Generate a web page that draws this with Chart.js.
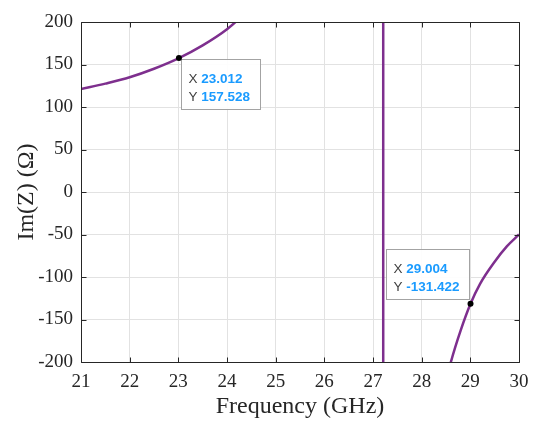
<!DOCTYPE html>
<html>
<head>
<meta charset="utf-8">
<script src="https://cdn.jsdelivr.net/npm/chart.js@4"></script>
<style>
  html, body { margin: 0; padding: 0; background: #fff; }
</style>
</head>
<body>
<canvas id="imz" width="533" height="423"></canvas>
<script>
// Im(Z) sweep, split at the pole near 27.2 GHz
const freqLow  = [21, 21.5, 22, 22.5, 23.012, 23.5, 24, 24.25, 24.5];
const imLow    = [121, 127.5, 135, 145, 157.528, 172.5, 191.5, 204, 219];
const poleFreq = [27.21, 27.21];
const poleIm   = [250, -250];
const freqHigh = [28.5, 28.6, 28.8, 29.004, 29.2, 29.5, 29.75, 30];
const imHigh   = [-223, -200, -163, -131.422, -108, -82, -64, -50];

// data tips
const tipFreq = [23.012, 29.004];
const tipIm   = [157.528, -131.422];

// axis ticks
const xTicks = [21, 22, 23, 24, 25, 26, 27, 28, 29, 30];
const yTicks = [-200, -150, -100, -50, 0, 50, 100, 150, 200];

const LINE  = '#7e2f8e';
const GRID  = '#e2e2e2';
const AXIS  = '#262626';
const SERIF = '"Liberation Serif", "Times New Roman", serif';
const SANS  = '"Liberation Sans", Arial, sans-serif';
const TICK  = 5;

function branch(xs, ys) {
  return {
    data: xs.map((x, i) => ({ x, y: ys[i] })),
    borderColor: LINE,
    borderWidth: 2.5,
    pointRadius: 0,
    cubicInterpolationMode: 'monotone',
    clip: 0,
  };
}

/* -------- box + inward ticks -------- */
const framePlugin = {
  id: 'frame',
  afterDatasetsDraw(chart) {
    const { ctx, chartArea: a, scales: { x, y } } = chart;
    const l = Math.round(a.left) + 0.5, r = Math.round(a.right) + 0.5;
    const t = Math.round(a.top) + 0.5,  b = Math.round(a.bottom) + 0.5;
    ctx.save();
    ctx.strokeStyle = AXIS;
    ctx.lineWidth = 1;
    ctx.beginPath();
    ctx.rect(l, t, r - l, b - t);
    xTicks.forEach(v => {
      const px = Math.round(x.getPixelForValue(v)) + 0.5;
      ctx.moveTo(px, b); ctx.lineTo(px, b - TICK);
      ctx.moveTo(px, t); ctx.lineTo(px, t + TICK);
    });
    yTicks.forEach(v => {
      const py = Math.round(y.getPixelForValue(v)) + 0.5;
      ctx.moveTo(l, py); ctx.lineTo(l + TICK, py);
      ctx.moveTo(r, py); ctx.lineTo(r - TICK, py);
    });
    ctx.stroke();
    ctx.restore();
  }
};

/* -------- data tips -------- */
const datatipPlugin = {
  id: 'datatips',
  afterDraw(chart, args, opts) {
    const { ctx, scales: { x, y } } = chart;
    ctx.save();
    tipFreq.forEach((f, i) => {
      const px = x.getPixelForValue(f);
      const py = y.getPixelForValue(tipIm[i]);
      const lines = [['X ', f.toFixed(3)], ['Y ', tipIm[i].toFixed(3)]];

      ctx.font = `bold ${opts.size}px ${SANS}`;
      const valW = Math.max(...lines.map(l => ctx.measureText(l[1]).width));
      ctx.font = `${opts.size}px ${SANS}`;
      const keyW = Math.max(...lines.map(l => ctx.measureText(l[0]).width));
      const w = Math.round(keyW + valW + 17);
      const h = 50;

      let bx, by;
      if (opts.place[i] === 'se') { bx = px + 2; by = py + 1; }
      else { bx = px - 2 - w; by = py - 5 - h; }
      bx = Math.round(bx) + 0.5; by = Math.round(by) + 0.5;

      ctx.fillStyle = 'rgba(255,255,255,0.92)';
      ctx.strokeStyle = '#a3a3a3';
      ctx.lineWidth = 1;
      ctx.fillRect(bx, by, w, h);
      ctx.strokeRect(bx, by, w, h);

      ctx.textBaseline = 'middle';
      ctx.textAlign = 'left';
      lines.forEach((l, j) => {
        const ty = by + 20 + j * 18;
        ctx.font = `${opts.size}px ${SANS}`;
        ctx.fillStyle = '#404040';
        ctx.fillText(l[0], bx + 7, ty);
        ctx.font = `bold ${opts.size}px ${SANS}`;
        ctx.fillStyle = '#1a9bff';
        ctx.fillText(l[1], bx + 7 + keyW, ty);
      });

      ctx.fillStyle = '#000';
      ctx.beginPath();
      ctx.arc(px, py, 3, 0, Math.PI * 2);
      ctx.fill();
    });
    ctx.restore();
  }
};

new Chart(document.getElementById('imz').getContext('2d'), {
  type: 'line',
  data: {
    datasets: [
      branch(freqLow, imLow),
      branch(poleFreq, poleIm),
      branch(freqHigh, imHigh),
    ],
  },
  options: {
    responsive: false,
    animation: false,
    layout: { padding: { top: 22, right: 14, left: 0, bottom: 0 } },
    plugins: {
      legend: { display: false },
      tooltip: { enabled: false },
      datatips: { size: 13.5, place: ['se', 'nw'] },
    },
    scales: {
      x: {
        type: 'linear',
        min: 21,
        max: 30,
        afterBuildTicks: s => { s.ticks = xTicks.map(v => ({ value: v })); },
        afterFit: s => { s.height = 61; s.paddingLeft = 0; s.paddingRight = 0; },
        border: { display: false },
        grid: { color: GRID, drawTicks: false },
        ticks: { padding: 9, color: AXIS, maxRotation: 0, font: { family: SERIF, size: 19 } },
        title: {
          display: true,
          text: 'Frequency (GHz)',
          color: AXIS,
          font: { family: SERIF, size: 24 },
          padding: { top: 0, bottom: 2 },
        },
      },
      y: {
        type: 'linear',
        min: -200,
        max: 200,
        afterBuildTicks: s => { s.ticks = yTicks.map(v => ({ value: v })); },
        afterFit: s => { s.width = 81; s.paddingTop = 0; s.paddingBottom = 0; },
        border: { display: false },
        grid: { color: GRID, drawTicks: false },
        ticks: { padding: 8, color: AXIS, font: { family: SERIF, size: 19 } },
        title: {
          display: true,
          text: 'Im(Z) (Ω)',
          color: AXIS,
          font: { family: SERIF, size: 24 },
          padding: { top: 12, bottom: 0 },
        },
      },
    },
  },
  plugins: [framePlugin, datatipPlugin],
});
</script>
</body>
</html>
